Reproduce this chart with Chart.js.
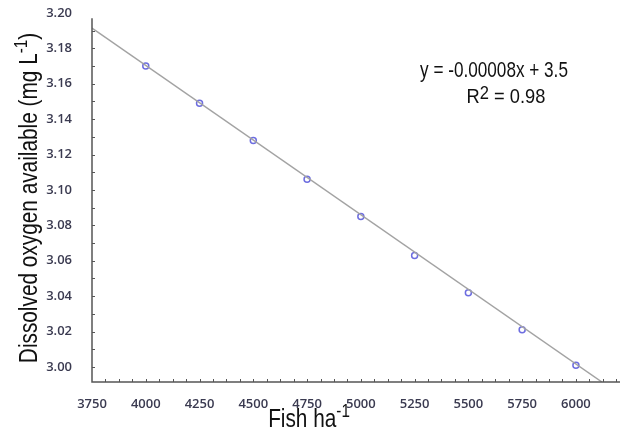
<!DOCTYPE html>
<html>
<head>
<meta charset="utf-8">
<script src="https://cdn.jsdelivr.net/npm/chart.js@4"></script>
<style>
  html, body { margin: 0; padding: 0; background: #fff; }
  #wrap { width: 620px; height: 432px; }
</style>
</head>
<body>
<div id="wrap"><canvas id="doChart" width="620" height="432"></canvas></div>
<script>
// values
const fishDensity = [4000, 4250, 4500, 4750, 5000, 5250, 5500, 5750, 6000];
const dissolvedOxygen = [3.170, 3.149, 3.128, 3.106, 3.085, 3.063, 3.042, 3.021, 3.001];
const trendX = [3750, 6121];
const trendY = [3.1915, 2.9915];
const xTicks = [3750, 4000, 4250, 4500, 4750, 5000, 5250, 5500, 5750, 6000];
const yTicks = [3.00, 3.02, 3.04, 3.06, 3.08, 3.10, 3.12, 3.14, 3.16, 3.18, 3.20];

const tickFont = { family: 'Open Sans', size: 13, weight: '600' };
const tickColor = '#3a3a50';

// draw text pieces (some superscript) centred on x, in a narrowed frame
function supText(c, parts, x, y, size, k, supSize, rise) {
  const fontOf = p => (p[1] ? supSize : size) + 'px "Liberation Sans", Arial, sans-serif';
  c.save();
  c.translate(x, y);
  c.scale(k, 1);
  let w = 0;
  parts.forEach(p => { c.font = fontOf(p); w += c.measureText(p[0]).width; });
  let cx = -w / 2;
  c.textBaseline = 'alphabetic';
  c.textAlign = 'left';
  parts.forEach(p => {
    c.font = fontOf(p);
    c.fillText(p[0], cx, p[1] ? -rise : 0);
    cx += c.measureText(p[0]).width;
  });
  c.restore();
}

// axes, inward minor ticks, titles, equation
const decor = {
  id: 'decor',
  afterDraw(chart) {
    const c = chart.ctx, a = chart.chartArea;
    const xs = chart.scales.x, ys = chart.scales.y;
    const axTop = ys.getPixelForValue(3.197);
    c.save();
    c.strokeStyle = '#555';
    c.lineWidth = 1.5;
    c.beginPath();
    c.moveTo(a.left, axTop); c.lineTo(a.left, a.bottom); c.lineTo(chart.width, a.bottom);
    c.stroke();
    c.lineWidth = 1;
    c.beginPath();
    for (let v = 3750 + 62.5; v <= 6300; v += 62.5) {
      const px = Math.round(xs.getPixelForValue(v)) + 0.5;
      if (px > chart.width) break;
      c.moveTo(px, a.bottom); c.lineTo(px, a.bottom - 3);
    }
    for (let v = 3.00; v <= 3.1901; v += 0.01) {
      const py = Math.round(ys.getPixelForValue(v)) + 0.5;
      c.moveTo(a.left, py); c.lineTo(a.left + 3, py);
    }
    c.stroke();

    c.fillStyle = '#111';
    supText(c, [['Fish ha', false], ['-1', true]], 309, 427, 26, 0.8, 19, 10);
    c.save();
    c.translate(37, 198);
    c.rotate(-Math.PI / 2);
    supText(c, [['Dissolved oxygen available (mg L', false], ['-1', true], [')', false]], 0, 0, 26, 0.8, 19, 10);
    c.restore();
    supText(c, [['y = -0.00008x + 3.5', false]], 494, 77, 22, 0.78, 22, 0);
    supText(c, [['R', false], ['2', true], [' = 0.98', false]], 506, 103, 21, 0.87, 19, 4);
    c.restore();
  }
};

new Chart(document.getElementById('doChart').getContext('2d'), {
  type: 'scatter',
  data: {
    datasets: [{
      label: 'fit',
      data: trendX.map((x, i) => ({ x: x, y: trendY[i] })),
      showLine: true,
      borderColor: '#a3a3a3',
      borderWidth: 1.5,
      pointRadius: 0
    }, {
      label: 'obs',
      data: fishDensity.map((x, i) => ({ x: x, y: dissolvedOxygen[i] })),
      borderColor: '#6d6de0',
      backgroundColor: 'rgba(255,255,255,0)',
      borderWidth: 1.5,
      pointRadius: 3
    }]
  },
  options: {
    responsive: false,
    animation: false,
    layout: { autoPadding: false, padding: { top: 13, right: 0, left: 0, bottom: 0 } },
    plugins: { legend: { display: false }, tooltip: { enabled: false } },
    scales: {
      x: {
        type: 'linear',
        min: 3750,
        max: 6205,
        grid: { display: false },
        border: { display: false },
        afterBuildTicks: s => { s.ticks = xTicks.map(v => ({ value: v })); },
        afterFit: s => { s.height = 50; s.paddingLeft = 0; s.paddingRight = 0; },
        ticks: { font: tickFont, color: tickColor, padding: 6, maxRotation: 0, callback: v => String(v) }
      },
      y: {
        type: 'linear',
        min: 2.9915,
        max: 3.20,
        grid: { display: false },
        border: { display: false },
        afterBuildTicks: s => { s.ticks = yTicks.map(v => ({ value: v })); },
        afterFit: s => { s.width = 92; s.paddingTop = 0; s.paddingBottom = 0; },
        ticks: { font: tickFont, color: tickColor, padding: 12, callback: v => v.toFixed(2) }
      }
    }
  },
  plugins: [decor]
});
</script>
</body>
</html>
